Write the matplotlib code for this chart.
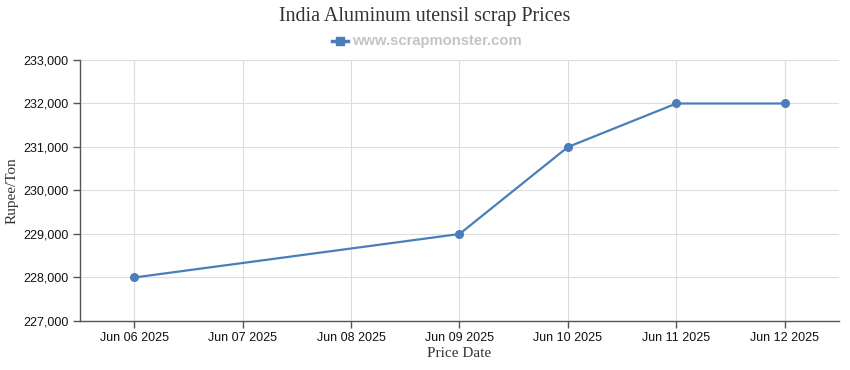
import matplotlib
matplotlib.use("Agg")
import matplotlib.pyplot as plt
from matplotlib.lines import Line2D
import numpy as np

tick_labels = ["Jun 06 2025", "Jun 07 2025", "Jun 08 2025", "Jun 09 2025",
               "Jun 10 2025", "Jun 11 2025", "Jun 12 2025"]
point_days = [0, 3, 4, 5, 6]  # index into tick_labels
prices = [228000, 229000, 231000, 232000, 232000]
y_ticks = [227000, 228000, 229000, 230000, 231000, 232000, 233000]

color = "#4a7ebb"

fig = plt.figure(figsize=(8.5, 3.7), dpi=100)
ax = fig.add_axes([80/850, 49/370, 759/850, 261/370])

ax.plot(point_days, prices, color=color, lw=1.6, marker="o", ms=5.5, zorder=3)

ax.set_xlim(-0.5, 6.5)
ax.set_ylim(227000, 233000)
ax.set_xticks(range(len(tick_labels)))
ax.set_xticklabels(tick_labels, family="Liberation Sans", fontsize=9, color="#111111")
ax.set_yticks(y_ticks)
ax.set_yticklabels([f"{v:,}" for v in y_ticks], family="Liberation Sans", fontsize=9, color="#111111")

ax.grid(True, color="#dddddd", lw=0.8)
ax.set_axisbelow(True)
for s in ["top", "right"]:
    ax.spines[s].set_visible(False)
for s in ["left", "bottom"]:
    ax.spines[s].set_color("#555555")
    ax.spines[s].set_linewidth(1)
ax.tick_params(axis="both", length=5, color="#555555", width=1, pad=3)

ax.set_xlabel("Price Date", family="Liberation Serif", fontsize=11, color="#333333", labelpad=2)
ax.set_ylabel("Rupee/Ton", family="Liberation Serif", fontsize=11, color="#333333")
ax.yaxis.set_label_coords(-68/759, 0.5)
ax.yaxis.label.set_va("center")

fig.text(0.5, 1 - 16/370, "India Aluminum utensil scrap Prices", ha="center", va="center",
         family="Liberation Serif", fontsize=14.4, color="#333333")

# legend
cx, ly = 340/850, 1 - 41/370
fig.add_artist(Line2D([cx - 8/850, cx, cx + 8/850], [ly, ly, ly], color=color, lw=2.5,
                      marker="s", ms=5.5, markevery=[1], transform=fig.transFigure))
fig.text(352/850, ly, "www.scrapmonster.com", ha="left", va="center",
         family="Liberation Sans", fontsize=10.6, fontweight="bold", color="#c4c4c4")

fig.savefig("out.png", dpi=100)
